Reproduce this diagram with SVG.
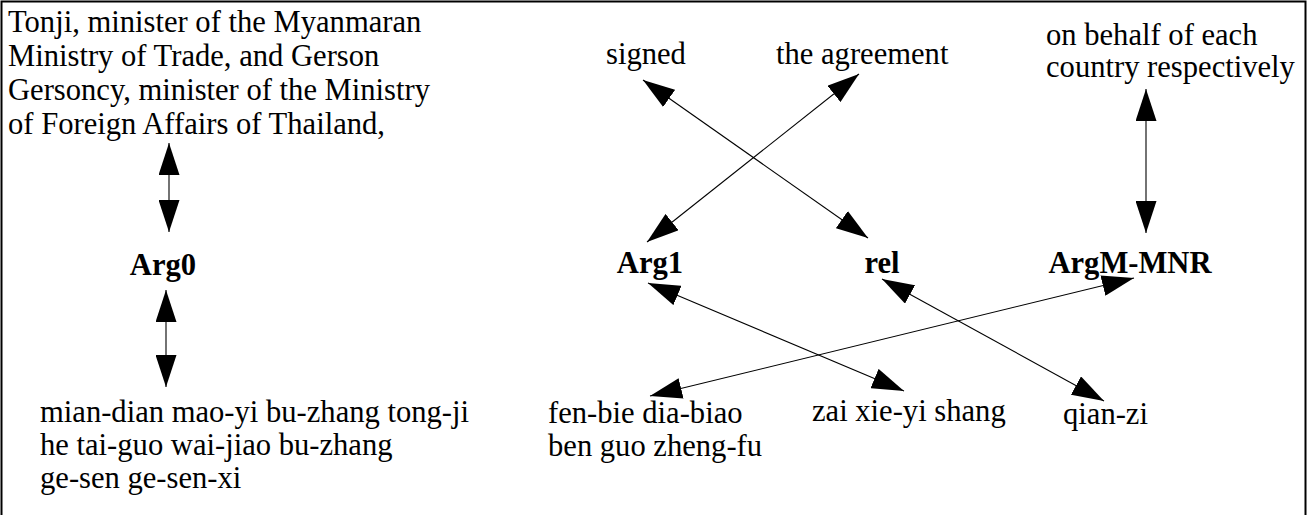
<svg xmlns="http://www.w3.org/2000/svg" width="1308" height="515" viewBox="0 0 1308 515">
<style>
text{font-family:"Liberation Serif","Times New Roman",serif;font-size:30.6px;fill:#000}
.b{font-weight:bold}
.c line{stroke:#000;stroke-width:1.1;marker-start:url(#ah);marker-end:url(#ah)}
</style>
<defs>
<marker id="ah" viewBox="0 0 32 21" refX="32" refY="10.5" markerWidth="32" markerHeight="21" markerUnits="userSpaceOnUse" orient="auto-start-reverse">
<path d="M0,0 L32,10.5 L0,21 z" fill="#000"/>
</marker>
</defs>
<rect x="1.5" y="1.5" width="1304" height="530" fill="#fff" stroke="#000" stroke-width="2"/>
<g id="n-tonji"><text x="8" y="32">Tonji, minister of the Myanmaran</text><text x="8" y="66">Ministry of Trade, and Gerson</text><text x="8" y="100">Gersoncy, minister of the Ministry</text><text x="8" y="134">of Foreign Affairs of Thailand,</text></g>
<g id="n-arg0"><text class="b" x="163" y="275" text-anchor="middle">Arg0</text></g>
<g id="n-mian"><text x="40" y="422">mian-dian mao-yi bu-zhang tong-ji</text><text x="40" y="455">he tai-guo wai-jiao bu-zhang</text><text x="40" y="488">ge-sen ge-sen-xi</text></g>
<g id="n-signed"><text x="606" y="64">signed</text></g>
<g id="n-agreement"><text x="776" y="64">the agreement</text></g>
<g id="n-behalf"><text x="1046" y="45">on behalf of each</text><text x="1046" y="77">country respectively</text></g>
<g id="n-arg1"><text class="b" x="650" y="273" text-anchor="middle">Arg1</text></g>
<g id="n-rel"><text class="b" x="882" y="273" text-anchor="middle">rel</text></g>
<g id="n-argm"><text class="b" x="1130" y="273" text-anchor="middle">ArgM-MNR</text></g>
<g id="n-fenbie"><text x="548" y="423">fen-bie dia-biao</text><text x="548" y="456">ben guo zheng-fu</text></g>
<g id="n-zai"><text x="812" y="421">zai xie-yi shang</text></g>
<g id="n-qianzi"><text x="1063" y="424">qian-zi</text></g>
<g id="connectors" class="c">
<line x1="169" y1="143" x2="169" y2="232"/>
<line x1="166" y1="290" x2="166" y2="387"/>
<line x1="643" y1="80" x2="868" y2="238"/>
<line x1="859" y1="74" x2="647" y2="242"/>
<line x1="1146" y1="89" x2="1146" y2="233"/>
<line x1="648" y1="283" x2="904" y2="391"/>
<line x1="882" y1="279" x2="1104" y2="401"/>
<line x1="1134" y1="278" x2="650" y2="396"/>
</g>
</svg>
